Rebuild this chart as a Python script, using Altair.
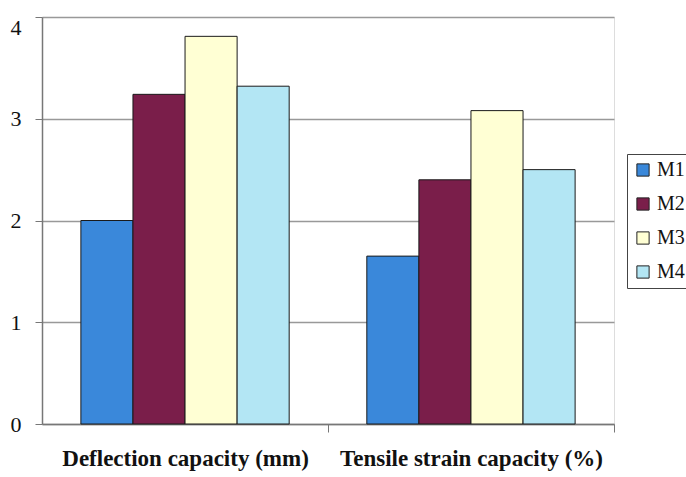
import altair as alt
import pandas as pd

categories = ["Deflection capacity (mm)", "Tensile strain capacity (%)"]
series = ["M1", "M2", "M3", "M4"]
values_deflection = [2.0, 3.24, 3.81, 3.32]
values_tensile = [1.65, 2.40, 3.08, 2.50]
colors = ["#3A88DA", "#7A1E4A", "#FFFFD4", "#B3E6F4"]

rows = []
for cat, vals in zip(categories, [values_deflection, values_tensile]):
    for s, v in zip(series, vals):
        rows.append({"category": cat, "series": s, "value": v})
df = pd.DataFrame(rows)

serif = "Liberation Serif"
half_step = 143

chart = alt.Chart(df).mark_bar(stroke="#1a1a1a", strokeWidth=1).encode(
    x=alt.X("category:N", sort=categories, title=None,
            scale=alt.Scale(paddingInner=0.2715, paddingOuter=0.136),
            axis=alt.Axis(labelAngle=0, labelFontWeight="bold",
                          labelFontSize=23, labelColor="#111", labelPadding=15,
                          labelLimit=0, tickOffset=half_step, labelOffset=-half_step,
                          tickSize=8, tickColor="#777",
                          domainColor="#777", domainWidth=1.5, grid=False)),
    xOffset=alt.XOffset("series:N", sort=series, scale=alt.Scale(paddingInner=0, paddingOuter=0)),
    y=alt.Y("value:Q", title=None,
            scale=alt.Scale(domain=[0, 4], nice=False),
            axis=alt.Axis(values=[0, 1, 2, 3, 4], labelFontSize=22,
                          labelColor="#111", labelPadding=14, tickSize=7,
                          labelBaseline={"condition": {"test": "datum.value == 4", "value": "top"},
                                         "value": "middle"},
                          tickColor="#777", domainColor="#777", domainWidth=1.5,
                          gridColor="#999", gridWidth=1.3)),
    color=alt.Color("series:N", sort=series, scale=alt.Scale(domain=series, range=colors),
                    legend=alt.Legend(title=None, orient="none", legendX=585, legendY=137,
                                      symbolType="square", symbolSize=150,
                                      symbolStrokeColor="#222", symbolStrokeWidth=1,
                                      labelFont=serif, labelFontSize=20, labelColor="#111",
                                      rowPadding=14, padding=6, labelOffset=4,
                                      strokeColor="#444", fillColor="#ffffff")),
).properties(
    width=572, height=407,
    autosize=alt.AutoSizeParams(type="none"),
    padding={"left": 42, "top": 17, "right": 72, "bottom": 53},
).configure_view(stroke="#777", strokeWidth=1.5).configure(
    background="white", font=serif
).configure_axis(labelFont=serif)

chart.save("out.html", embed_options={"renderer": "svg", "actions": False})
